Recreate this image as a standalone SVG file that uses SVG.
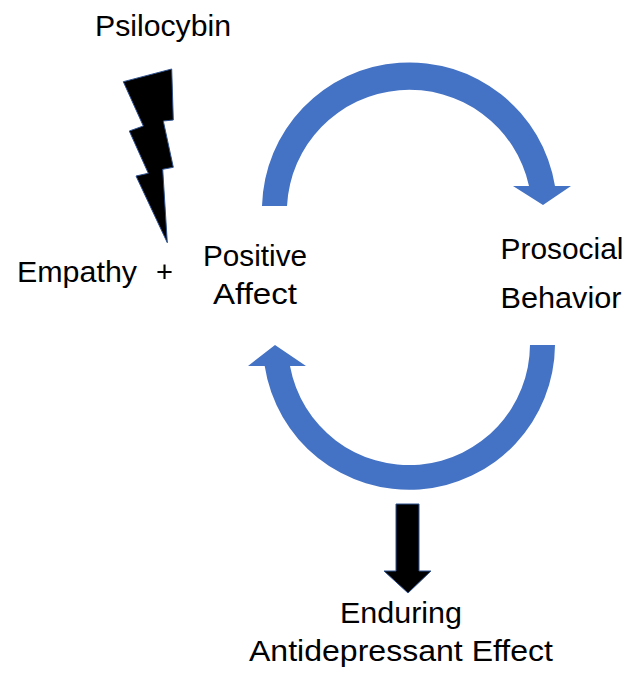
<svg xmlns="http://www.w3.org/2000/svg" width="637" height="673" viewBox="0 0 637 673">
  <style>
    .lbl { font-family: "Liberation Sans", Arial, sans-serif; font-size: 29px; fill: #000; text-anchor: middle; }
    .cycle { fill: #4472C4; stroke: none; }
    .dark { fill: #000; stroke: #2F528F; stroke-width: 1; stroke-linejoin: miter; }
  </style>
  <rect width="637" height="673" fill="#fff"/>

  <!-- Nodes -->
  <g id="psilocybin">
    <text class="lbl" x="163" y="36" textLength="136" lengthAdjust="spacingAndGlyphs">Psilocybin</text>
  </g>
  <g id="empathy">
    <text class="lbl" x="77" y="282" textLength="120" lengthAdjust="spacingAndGlyphs">Empathy</text>
    <text class="lbl" x="164.5" y="282">+</text>
  </g>
  <g id="positive-affect">
    <text class="lbl" x="255" y="266" textLength="104" lengthAdjust="spacingAndGlyphs">Positive</text>
    <text class="lbl" x="255" y="304" textLength="84" lengthAdjust="spacingAndGlyphs">Affect</text>
  </g>
  <g id="prosocial-behavior">
    <text class="lbl" x="562" y="259" textLength="123" lengthAdjust="spacingAndGlyphs">Prosocial</text>
    <text class="lbl" x="561" y="308" textLength="121" lengthAdjust="spacingAndGlyphs">Behavior</text>
  </g>
  <g id="antidepressant-effect">
    <text class="lbl" x="401" y="623" textLength="122" lengthAdjust="spacingAndGlyphs">Enduring</text>
    <text class="lbl" x="401" y="661" textLength="304" lengthAdjust="spacingAndGlyphs">Antidepressant Effect</text>
  </g>

  <!-- Connectors -->
  <g id="connectors">
    <!-- lightning bolt from Psilocybin -->
    <polygon class="dark" points="123.3,81.7 171.7,69 173.3,120 163.3,121 173.3,167.3 162.7,169.3 167.3,242.7 136,176 148.3,173.3 129.3,131 143.3,126"/>
    <!-- upper arc: Positive Affect to Prosocial Behavior -->
    <path class="cycle" d="M262,206 A147.5,147.5 0 0 1 555,186 L571,186 L543,205 L513,186 L529,186 A122.5,122.5 0 0 0 287,206 Z"/>
    <!-- lower arc: Prosocial Behavior back to Positive Affect -->
    <path class="cycle" d="M555,345 A146,146 0 0 1 264.7,366 L248,366 L275,345 L306,366 L290,366 A121,121 0 0 0 530,345 Z"/>
    <!-- down arrow to the enduring effect -->
    <polygon class="dark" points="396,504 419,504 419,571 431,571 408,593 384,571 396,571"/>
  </g>
</svg>
